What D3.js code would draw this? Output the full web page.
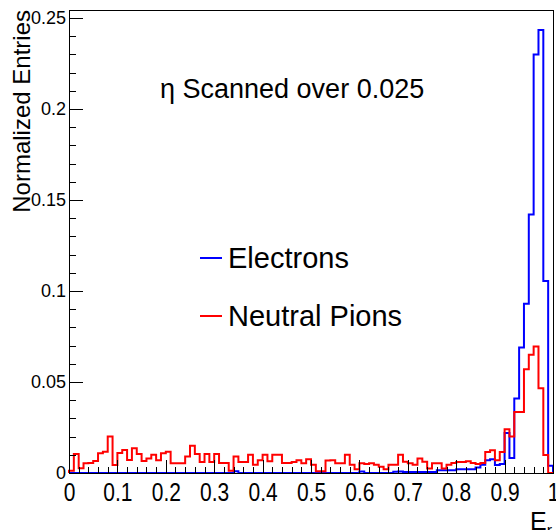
<!DOCTYPE html>
<html>
<head>
<meta charset="utf-8">
<script src="https://cdn.jsdelivr.net/npm/d3@7"></script>
<style>
  body { margin: 0; background: #fff; }
  svg { display: block; font-family: "Liberation Sans", Arial, Helvetica, sans-serif; }
</style>
</head>
<body>
<div class="chart"></div>
<script>
// 100 bins of 0.01 from 0 to 1
var binEdges = d3.range(0, 101).map(function (i) { return i / 100; });

var electrons = [
  0, 0, 0, 0, 0, 0, 0, 0, 0, 0,
  0, 0, 0, 0, 0, 0, 0, 0, 0, 0,
  0, 0, 0, 0, 0, 0, 0, 0, 0, 0,
  0, 0, 0, 0, 0.001, 0, 0, 0, 0, 0,
  0, 0, 0, 0, 0, 0, 0, 0, 0, 0,
  0, 0, 0, 0, 0, 0, 0, 0, 0, 0,
  0.0008, 0, 0, 0, 0, 0, 0, 0.0007, 0.0008, 0.0006,
  0.0006, 0.0006, 0.0006, 0.0006, 0.0006, 0.0006, 0.0015, 0.0015, 0.0015, 0.0015,
  0.002, 0.002, 0.002, 0.002, 0.003, 0.0045, 0.007, 0.0075, 0.0044, 0.005,
  0.022, 0.0082, 0.041, 0.069, 0.093, 0.142, 0.230, 0.2434, 0.1055, 0.004
];

var pions = [
  0.0013, 0.0104, 0.0026, 0.0053, 0.0055, 0.0066, 0.0108, 0.0117, 0.0200, 0.0044,
  0.0110, 0.0126, 0.0071, 0.0136, 0.0104, 0.0066, 0.0080, 0.0100, 0.0070, 0.0108,
  0.0117, 0.0053, 0.0053, 0.0053, 0.0090, 0.0150, 0.0105, 0.0060, 0.0105, 0.0060,
  0.0105, 0.0055, 0.0055, 0.0013, 0.0090, 0.0060, 0.0060, 0.0100, 0.0045, 0.0070,
  0.0100, 0.0065, 0.0100, 0.0100, 0.0055, 0.0055, 0.0060, 0.0070, 0.0053, 0.0075,
  0.0045, 0.0010, 0.0010, 0.0068, 0.0070, 0.0053, 0.0053, 0.0100, 0.0045, 0.0020,
  0.0053, 0.0050, 0.0053, 0.0045, 0.0035, 0.0020, 0.0045, 0.0045, 0.0100, 0.0062,
  0.0053, 0.0045, 0.0080, 0.0062, 0.0025, 0.0053, 0.0053, 0.0025, 0.0045, 0.0055,
  0.0060, 0.0060, 0.0065, 0.0055, 0.0050, 0.0055, 0.0115, 0.0125, 0.0070, 0.0115,
  0.0240, 0.0200, 0.0335, 0.0335, 0.0570, 0.0650, 0.0695, 0.0465, 0.0099, 0
];

var xTicks = [0, 0.1, 0.2, 0.3, 0.4, 0.5, 0.6, 0.7, 0.8, 0.9, 1];
var xTickLabels = ["0", "0.1", "0.2", "0.3", "0.4", "0.5", "0.6", "0.7", "0.8", "0.9", "1"];
var yTicks = [0, 0.05, 0.1, 0.15, 0.2, 0.25];
var yTickLabels = ["0", "0.05", "0.1", "0.15", "0.2", "0.25"];
var seriesNames = ["Electrons", "Neutral Pions"];
var seriesColors = ["#0000ff", "#ff0000"];

var W = 556, H = 530;
var padL = 69, padR = 553, padT = 10, padB = 473;

var svg = d3.select('.chart')
  .append('svg')
  .attr('width', W)
  .attr('height', H);

svg.append('rect').attr('width', W).attr('height', H).style('fill', '#fff');

var x = d3.scaleLinear().domain([0, 1]).range([padL, padR]);
var y = d3.scaleLinear().domain([0, 0.25 * 463 / 455]).range([padB, padT]);

// step outline of a histogram
function stepPoints(vals) {
  var pts = [[binEdges[0], 0]];
  vals.forEach(function (v, i) {
    pts.push([binEdges[i], v]);
    pts.push([binEdges[i + 1], v]);
  });
  pts.push([binEdges[vals.length], 0]);
  return pts;
}

var line = d3.line()
  .x(function (d) { return x(d[0]); })
  .y(function (d) { return y(d[1]); });

[electrons, pions].forEach(function (vals, k) {
  svg.append('path')
    .attr('d', line(stepPoints(vals)))
    .style('fill', 'none')
    .style('stroke', seriesColors[k])
    .style('stroke-width', 2)
    .style('stroke-linejoin', 'miter');
});

// minor ticks
svg.append('g')
  .attr('transform', 'translate(0,' + padB + ')')
  .call(d3.axisBottom(x).tickValues(d3.range(0, 51).map(function (i) { return i / 50; }))
    .tickSize(-6.5).tickFormat(''))
  .call(function (g) { g.select('.domain').remove(); });

svg.append('g')
  .attr('transform', 'translate(' + padL + ',0)')
  .call(d3.axisLeft(y).tickValues(d3.range(0, 26).map(function (i) { return i / 100; }))
    .tickSize(-7).tickFormat(''))
  .call(function (g) { g.select('.domain').remove(); });

// major ticks + labels
var xAxis = svg.append('g')
  .attr('transform', 'translate(0,' + padB + ')')
  .call(d3.axisBottom(x).tickValues(xTicks).tickSize(-13).tickPadding(10)
    .tickFormat(function (d, i) { return xTickLabels[i]; }));
xAxis.select('.domain').remove();
xAxis.selectAll('text')
  .style('font-size', '25px')
  .style('font-family', '"Liberation Sans", Arial, sans-serif')
  .style('fill', '#000')
  .attr('transform', 'scale(0.84,1)');

var yAxis = svg.append('g')
  .attr('transform', 'translate(' + padL + ',0)')
  .call(d3.axisLeft(y).tickValues(yTicks).tickSize(-14).tickPadding(3)
    .tickFormat(function (d, i) { return yTickLabels[i]; }));
yAxis.select('.domain').remove();
yAxis.selectAll('text')
  .style('font-size', '18px')
  .style('font-family', '"Liberation Sans", Arial, sans-serif')
  .style('fill', '#000');

svg.selectAll('.tick line').style('stroke', '#000').style('shape-rendering', 'crispEdges');

// frame
svg.append('rect')
  .attr('x', padL).attr('y', padT)
  .attr('width', padR - padL).attr('height', padB - padT)
  .style('fill', 'none').style('stroke', '#000').style('stroke-width', 1)
  .style('shape-rendering', 'crispEdges');

// axis titles
svg.append('text')
  .attr('transform', 'translate(30,10) rotate(-90)')
  .style('text-anchor', 'end')
  .style('font-size', '24px')
  .text('Normalized Entries');

var xt = svg.append('text')
  .attr('x', 552).attr('y', 530)
  .style('text-anchor', 'end')
  .style('font-size', '25px');
xt.append('tspan').text('E');
xt.append('tspan').attr('dy', 6).style('font-size', '16px').text('r');

svg.append('text')
  .attr('x', 160).attr('y', 98)
  .style('font-size', '27px')
  .text('\u03b7 Scanned over 0.025');

// legend
var legend = svg.selectAll('.leg')
  .data(seriesNames)
  .enter()
  .append('g')
  .attr('class', 'leg')
  .attr('transform', function (d, i) { return 'translate(200,' + (258 + i * 58) + ')'; });

legend.append('line')
  .attr('x1', 0).attr('x2', 22)
  .style('stroke', function (d, i) { return seriesColors[i]; })
  .style('stroke-width', 2);

legend.append('text')
  .attr('x', 28).attr('dy', '0.35em')
  .style('font-size', '29px')
  .text(function (d) { return d; });
</script>
</body>
</html>
